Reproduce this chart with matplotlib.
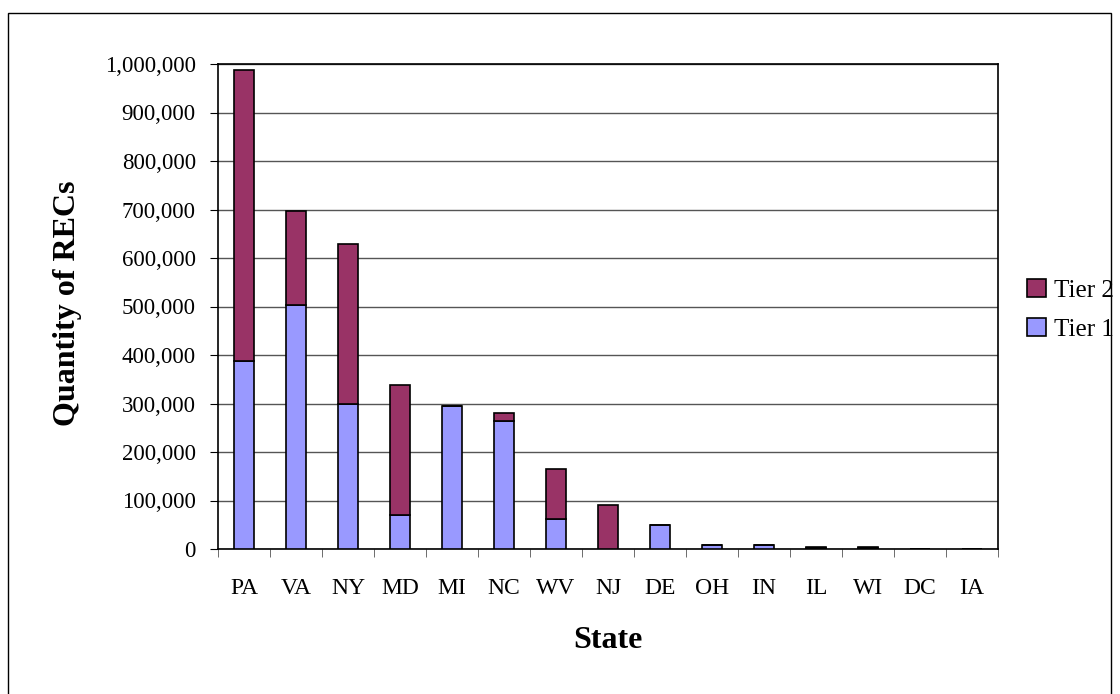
import matplotlib
matplotlib.use("Agg")
import matplotlib.pyplot as plt
from matplotlib.patches import Rectangle
from matplotlib.ticker import FuncFormatter, MultipleLocator
import numpy as np

states = ["PA", "VA", "NY", "MD", "MI", "NC", "WV", "NJ", "DE", "OH", "IN", "IL", "WI", "DC", "IA"]
tier1 = [387000, 503000, 298000, 70000, 294000, 264000, 62000, 0, 50000, 8000, 8000, 3000, 3000, 300, 300]
tier2 = [600000, 194000, 331000, 269000, 0, 17000, 103000, 91000, 0, 0, 0, 1000, 1000, 0, 0]

C_T1 = "#9999FF"
C_T2 = "#993366"

plt.rcParams["font.family"] = ["Liberation Serif", "DejaVu Serif"]

W, H = 1120, 694
fig = plt.figure(figsize=(W / 100, H / 100), dpi=100)
ax = fig.add_axes([218 / W, 1 - 549 / H, 780 / W, 485 / H])

# outer chart border
fig.patches.append(Rectangle((8 / W, -0.01), 1103 / W, 1 - 13 / H + 0.01,
                             transform=fig.transFigure, fill=False, ec="black", lw=1.0))

x = np.arange(len(states))
w = 0.385
ax.bar(x, tier1, w, color=C_T1, edgecolor="black", lw=1.2, label="Tier 1", zorder=3)
ax.bar(x, tier2, w, bottom=tier1, color=C_T2, edgecolor="black", lw=1.2, label="Tier 2", zorder=3)

ax.set_xlim(-0.5, len(states) - 0.5)
ax.set_ylim(0, 1000000)
ax.yaxis.set_major_locator(MultipleLocator(100000))
ax.yaxis.set_major_formatter(FuncFormatter(lambda v, p: f"{int(v):,}"))
ax.grid(axis="y", color="#555555", lw=1.0, zorder=0)

ax.set_xticks(x)
ax.set_xticklabels(states)
ax.set_xticks(np.arange(-0.5, len(states), 1.0), minor=True)
ax.tick_params(axis="x", which="major", length=0, pad=21, labelsize=17)
ax.tick_params(axis="x", which="minor", length=6, color="#555555", direction="out")
ax.tick_params(axis="y", length=6, labelsize=16.5, pad=10)
for s in ax.spines.values():
    s.set_color("black")
    s.set_linewidth(1.2)

fig.text(68 / W, 1 - 303 / H, "Quantity of RECs", rotation=90, ha="center", va="center",
         fontsize=23, fontweight="bold")
fig.text(608 / W, 1 - 640 / H, "State", ha="center", va="center",
         fontsize=23, fontweight="bold")

h, l = ax.get_legend_handles_labels()
fig.legend(h[::-1], l[::-1], loc="center left", bbox_to_anchor=(1027 / W, 1 - 310 / H),
           frameon=False, fontsize=18, handlelength=0.75, handleheight=0.75,
           handletextpad=0.35, labelspacing=0.65, borderpad=0, borderaxespad=0)

fig.savefig("out.png", dpi=100)
